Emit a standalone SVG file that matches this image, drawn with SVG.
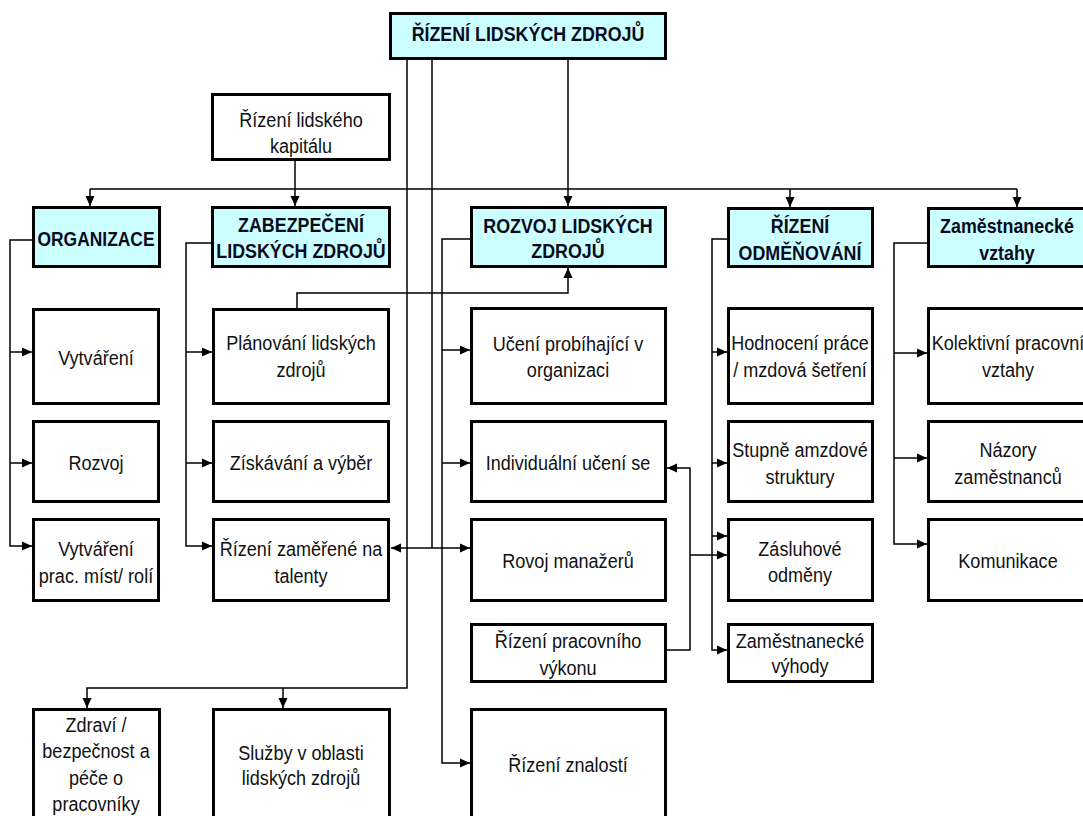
<svg xmlns="http://www.w3.org/2000/svg" width="1083" height="816" viewBox="0 0 1083 816">
<style>
.box{fill:#fff;stroke:#000;stroke-width:3}
.hd{fill:#ccffff;stroke:#000;stroke-width:3}
.t{font-family:"Liberation Sans",Arial,sans-serif;font-size:21px;fill:#111;text-anchor:middle}
.b{font-family:"Liberation Sans",Arial,sans-serif;font-size:20.5px;font-weight:bold;fill:#0a0a1e;text-anchor:middle}
.c{fill:none;stroke:#000;stroke-width:1.5}
</style>
<defs>
<marker id="a" markerUnits="userSpaceOnUse" markerWidth="11" markerHeight="11" refX="10" refY="5.5" orient="auto">
<path d="M0,1 L10,5.5 L0,10 z" fill="#000"/>
</marker>
</defs>
<rect width="1083" height="816" fill="#fff"/>
<g id="connectors">
<path class="c" d="M568,60 V206" marker-end="url(#a)"/>
<path class="c" d="M407,60 V688 H87 V708" marker-end="url(#a)"/>
<path class="c" d="M283,688 V708" marker-end="url(#a)"/>
<path class="c" d="M432,60 V548"/>
<path class="c" d="M90,189 H1017"/>
<path class="c" d="M90,189 V206" marker-end="url(#a)"/>
<path class="c" d="M790,189 V207" marker-end="url(#a)"/>
<path class="c" d="M1017,189 V207" marker-end="url(#a)"/>
<path class="c" d="M295,161 V206" marker-end="url(#a)"/>
<path class="c" d="M32,240 H10 V546 H32" marker-end="url(#a)"/>
<path class="c" d="M10,352 H32" marker-end="url(#a)"/>
<path class="c" d="M10,463 H32" marker-end="url(#a)"/>
<path class="c" d="M211,243 H186 V546 H212" marker-end="url(#a)"/>
<path class="c" d="M186,352 H212" marker-end="url(#a)"/>
<path class="c" d="M186,463 H212" marker-end="url(#a)"/>
<path class="c" d="M297,308 V293 H568 V268" marker-end="url(#a)"/>
<path class="c" d="M432,548 H391" marker-end="url(#a)"/>
<path class="c" d="M432,548 H470" marker-end="url(#a)"/>
<path class="c" d="M470,239 H442 V763 H470" marker-end="url(#a)"/>
<path class="c" d="M442,350 H470" marker-end="url(#a)"/>
<path class="c" d="M442,463 H470" marker-end="url(#a)"/>
<path class="c" d="M667,650 H690 V468 H667" marker-end="url(#a)"/>
<path class="c" d="M690,555 H727" marker-end="url(#a)"/>
<path class="c" d="M727,239 H712 V650 H727" marker-end="url(#a)"/>
<path class="c" d="M712,352 H727" marker-end="url(#a)"/>
<path class="c" d="M712,463 H727" marker-end="url(#a)"/>
<path class="c" d="M712,536 H727" marker-end="url(#a)"/>
<path class="c" d="M927,243 H894 V544 H927" marker-end="url(#a)"/>
<path class="c" d="M894,353 H927" marker-end="url(#a)"/>
<path class="c" d="M894,458 H927" marker-end="url(#a)"/>
</g>
<g id="n-root"><rect class="hd" x="390.5" y="13.5" width="275" height="45"/><text class="b" transform="translate(528,41) scale(0.87,1)">ŘÍZENÍ LIDSKÝCH ZDROJŮ</text></g>
<g id="n-kapital"><rect class="box" x="212.5" y="94.5" width="177" height="65"/><text class="t" transform="translate(301,127) scale(0.86,1)"><tspan x="0">Řízení lidského</tspan><tspan x="0" dy="26">kapitálu</tspan></text></g>
<g id="n-org"><rect class="hd" x="33.5" y="207.5" width="126" height="59"/><text class="b" transform="translate(96,246) scale(0.85,1)">ORGANIZACE</text></g>
<g id="n-zab"><rect class="hd" x="212.5" y="207.5" width="177" height="59"/><text class="b" transform="translate(301,232) scale(0.87,1)"><tspan x="0">ZABEZPEČENÍ</tspan><tspan x="0" dy="26">LIDSKÝCH ZDROJŮ</tspan></text></g>
<g id="n-rozvoj"><rect class="hd" x="471.5" y="207.5" width="194" height="59"/><text class="b" transform="translate(568,233) scale(0.87,1)"><tspan x="0">ROZVOJ LIDSKÝCH</tspan><tspan x="0" dy="25">ZDROJŮ</tspan></text></g>
<g id="n-odm"><rect class="hd" x="728.5" y="208.5" width="144" height="58"/><text class="b" transform="translate(800,233) scale(0.87,1)"><tspan x="0">ŘÍZENÍ</tspan><tspan x="0" dy="27">ODMĚŇOVÁNÍ</tspan></text></g>
<g id="n-vztahy"><rect class="hd" x="928.5" y="208.5" width="160" height="58"/><text class="b" transform="translate(1007,233) scale(0.87,1)"><tspan x="0">Zaměstnanecké</tspan><tspan x="0" dy="27">vztahy</tspan></text></g>
<g id="n-vytvareni"><rect class="box" x="33.5" y="309.5" width="125" height="94"/><text class="t" transform="translate(96,365) scale(0.86,1)">Vytváření</text></g>
<g id="n-rozvoj2"><rect class="box" x="33.5" y="421.5" width="125" height="80"/><text class="t" transform="translate(96,470) scale(0.86,1)">Rozvoj</text></g>
<g id="n-vytvprac"><rect class="box" x="33.5" y="519.5" width="125" height="81"/><text class="t" transform="translate(96,556) scale(0.86,1)"><tspan x="0">Vytváření</tspan><tspan x="0" dy="27">prac. míst/ rolí</tspan></text></g>
<g id="n-planovani"><rect class="box" x="213.5" y="309.5" width="175" height="94"/><text class="t" transform="translate(301,350) scale(0.86,1)"><tspan x="0">Plánování lidských</tspan><tspan x="0" dy="27">zdrojů</tspan></text></g>
<g id="n-ziskavani"><rect class="box" x="213.5" y="421.5" width="175" height="80"/><text class="t" transform="translate(301,470) scale(0.86,1)">Získávání a výběr</text></g>
<g id="n-talenty"><rect class="box" x="213.5" y="519.5" width="175" height="81"/><text class="t" transform="translate(301,556) scale(0.86,1)"><tspan x="0">Řízení zaměřené na</tspan><tspan x="0" dy="27">talenty</tspan></text></g>
<g id="n-uceni"><rect class="box" x="471.5" y="308.5" width="194" height="95"/><text class="t" transform="translate(568,351) scale(0.86,1)"><tspan x="0">Učení probíhající v</tspan><tspan x="0" dy="26">organizaci</tspan></text></g>
<g id="n-individ"><rect class="box" x="471.5" y="421.5" width="194" height="80"/><text class="t" transform="translate(568,470) scale(0.86,1)">Individuální učení se</text></g>
<g id="n-rovoj"><rect class="box" x="471.5" y="519.5" width="194" height="81"/><text class="t" transform="translate(568,568) scale(0.86,1)">Rovoj manažerů</text></g>
<g id="n-vykon"><rect class="box" x="471.5" y="624.5" width="194" height="57"/><text class="t" transform="translate(568,648) scale(0.86,1)"><tspan x="0">Řízení pracovního</tspan><tspan x="0" dy="27">výkonu</tspan></text></g>
<g id="n-znalosti"><rect class="box" x="471.5" y="709.5" width="194" height="120"/><text class="t" transform="translate(568,772) scale(0.86,1)">Řízení znalostí</text></g>
<g id="n-hodnoceni"><rect class="box" x="728.5" y="308.5" width="144" height="95"/><text class="t" transform="translate(800,350) scale(0.86,1)"><tspan x="0">Hodnocení práce</tspan><tspan x="0" dy="27">/ mzdová šetření</tspan></text></g>
<g id="n-stupne"><rect class="box" x="728.5" y="421.5" width="144" height="80"/><text class="t" transform="translate(800,457) scale(0.86,1)"><tspan x="0">Stupně amzdové</tspan><tspan x="0" dy="27">struktury</tspan></text></g>
<g id="n-zasluhove"><rect class="box" x="728.5" y="519.5" width="144" height="81"/><text class="t" transform="translate(800,556) scale(0.86,1)"><tspan x="0">Zásluhové</tspan><tspan x="0" dy="26">odměny</tspan></text></g>
<g id="n-vyhody"><rect class="box" x="728.5" y="624.5" width="144" height="57"/><text class="t" transform="translate(800,648) scale(0.86,1)"><tspan x="0">Zaměstnanecké</tspan><tspan x="0" dy="25">výhody</tspan></text></g>
<g id="n-kolektivni"><rect class="box" x="928.5" y="308.5" width="160" height="95"/><text class="t" transform="translate(1008,350) scale(0.86,1)"><tspan x="0">Kolektivní pracovní</tspan><tspan x="0" dy="27">vztahy</tspan></text></g>
<g id="n-nazory"><rect class="box" x="928.5" y="421.5" width="160" height="80"/><text class="t" transform="translate(1008,457) scale(0.86,1)"><tspan x="0">Názory</tspan><tspan x="0" dy="27">zaměstnanců</tspan></text></g>
<g id="n-komunikace"><rect class="box" x="928.5" y="519.5" width="160" height="81"/><text class="t" transform="translate(1008,568) scale(0.86,1)">Komunikace</text></g>
<g id="n-zdravi"><rect class="box" x="33.5" y="709.5" width="126" height="120"/><text class="t" transform="translate(96,732) scale(0.86,1)"><tspan x="0">Zdraví /</tspan><tspan x="0" dy="26.5">bezpečnost a</tspan><tspan x="0" dy="26.5">péče o</tspan><tspan x="0" dy="26.5">pracovníky</tspan></text></g>
<g id="n-sluzby"><rect class="box" x="213.5" y="709.5" width="176" height="120"/><text class="t" transform="translate(301,760) scale(0.86,1)"><tspan x="0">Služby v oblasti</tspan><tspan x="0" dy="25">lidských zdrojů</tspan></text></g>
</svg>
